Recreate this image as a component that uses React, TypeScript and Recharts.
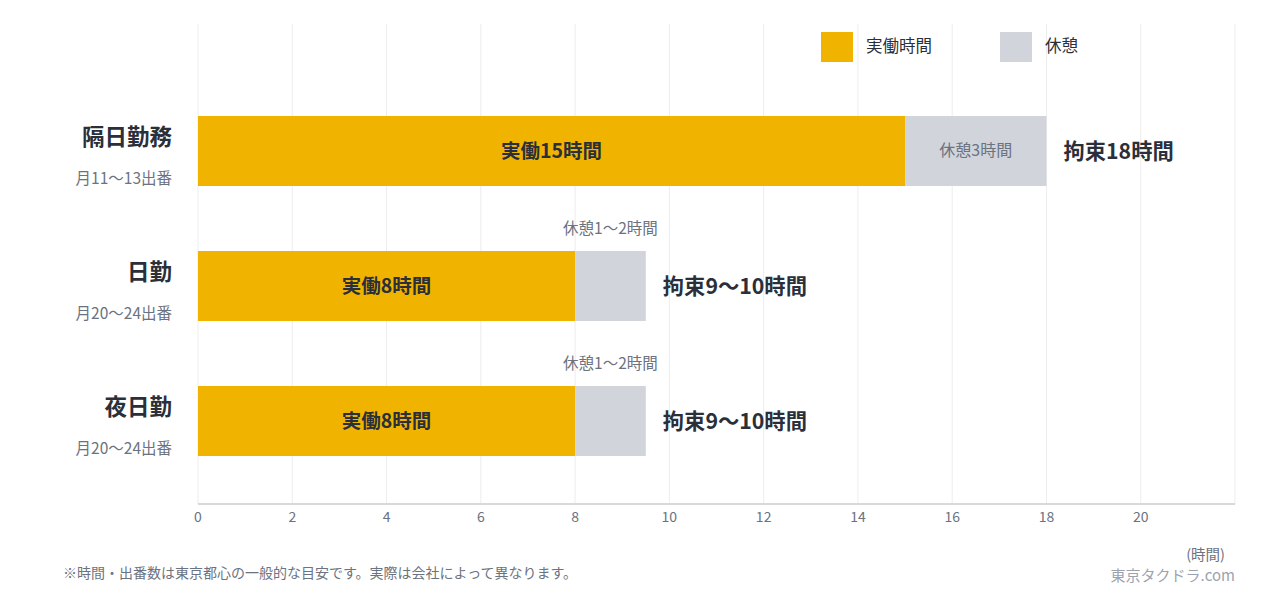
import { BarChart, Bar, XAxis, YAxis, CartesianGrid } from "recharts";

const categories = ["隔日勤務", "日勤", "夜日勤"];
const shiftCounts = ["月11〜13出番", "月20〜24出番", "月20〜24出番"];
const workHours = [15, 8, 8];
const restHours = [3, 1.5, 1.5];
const workLabels = ["実働15時間", "実働8時間", "実働8時間"];
const restLabels = ["休憩3時間", "休憩1〜2時間", "休憩1〜2時間"];
const totalLabels = ["拘束18時間", "拘束9〜10時間", "拘束9〜10時間"];
const restInside = [true, false, false];
const xTicks = [0, 2, 4, 6, 8, 10, 12, 14, 16, 18, 20];

const WORK = "#F0B400";
const REST = "#D1D5DB";
const DARK = "#2A2F3A";
const GRAY = "#6B7280";
const FONT = '"Noto Sans CJK JP", "Noto Sans", sans-serif';

const data = categories.map((name, i) => ({
  name,
  work: workHours[i],
  rest: restHours[i],
}));

function CategoryTick(props: any) {
  const { x, y, payload } = props;
  const i = categories.indexOf(payload.value);
  return (
    <g>
      <text x={x} y={y - 16} textAnchor="end" dominantBaseline="central" fill={DARK} fontSize={22.5} fontWeight={700}>
        {payload.value}
      </text>
      <text x={x} y={y + 26} textAnchor="end" dominantBaseline="central" fill={GRAY} fontSize={15.5}>
        {shiftCounts[i]}
      </text>
    </g>
  );
}

function WorkLabel(props: any) {
  const { x, y, width, height, index } = props;
  return (
    <text x={x + width / 2} y={y + height / 2 - 2} textAnchor="middle" dominantBaseline="central" fill={DARK} fontSize={19.5} fontWeight={700}>
      {workLabels[index]}
    </text>
  );
}

function RestLabel(props: any) {
  const { x, y, width, height, index } = props;
  return (
    <g>
      {restInside[index] ? (
        <text x={x + width / 2} y={y + height / 2 - 2} textAnchor="middle" dominantBaseline="central" fill={GRAY} fontSize={16}>
          {restLabels[index]}
        </text>
      ) : (
        <text x={x + width / 2} y={y - 24} textAnchor="middle" dominantBaseline="central" fill={GRAY} fontSize={15.5}>
          {restLabels[index]}
        </text>
      )}
      <text x={x + width + 17} y={y + height / 2 - 2} textAnchor="start" dominantBaseline="central" fill={DARK} fontSize={21.3} fontWeight={700}>
        {totalLabels[index]}
      </text>
    </g>
  );
}

export default function App() {
  return (
    <div style={{ position: "absolute", left: 0, top: 0, width: 1280, height: 597, fontFamily: FONT, background: "#fff" }}>
      <BarChart
        width={1280}
        height={597}
        data={data}
        layout="vertical"
        margin={{ top: 24, right: 45, left: 0, bottom: 63 }}
        style={{ fontFamily: FONT }}
      >
        <CartesianGrid horizontal={false} stroke="#EDEDED" />
        <XAxis
          type="number"
          domain={[0, 22]}
          ticks={xTicks}
          tickLine={false}
          axisLine={{ stroke: "#D9D9D9", strokeWidth: 2 }}
          tick={{ fill: GRAY, fontSize: 14 }}
          tickMargin={2}
          height={30}
        />
        <YAxis
          type="category"
          dataKey="name"
          width={198}
          tickLine={false}
          axisLine={false}
          tickSize={0}
          tickMargin={26}
          tick={<CategoryTick />}
          padding={{ top: 59, bottom: 16 }}
        />
        <Bar dataKey="work" stackId="a" fill={WORK} barSize={70} isAnimationActive={false} label={<WorkLabel />} />
        <Bar dataKey="rest" stackId="a" fill={REST} barSize={70} isAnimationActive={false} label={<RestLabel />} />
      </BarChart>

      <div style={{ position: "absolute", top: 32, left: 821, display: "flex", alignItems: "center", fontSize: 16.5, lineHeight: 1, color: DARK }}>
        <span style={{ width: 32, height: 30, background: WORK, display: "inline-block" }} />
        <span style={{ marginLeft: 13, width: 134, position: "relative", top: -2 }}>実働時間</span>
        <span style={{ width: 32, height: 30, background: REST, display: "inline-block" }} />
        <span style={{ marginLeft: 13, position: "relative", top: -2 }}>休憩</span>
      </div>

      <div style={{ position: "absolute", left: 63, top: 565, fontSize: 14, lineHeight: 1, color: GRAY }}>
        ※時間・出番数は東京都心の一般的な目安です。実際は会社によって異なります。
      </div>
      <div style={{ position: "absolute", right: 55, top: 547, fontSize: 14.5, lineHeight: 1, color: GRAY }}>(時間)</div>
      <div style={{ position: "absolute", right: 45, top: 567, fontSize: 15, lineHeight: 1, color: "#9CA3AF" }}>東京タクドラ.com</div>
    </div>
  );
}
